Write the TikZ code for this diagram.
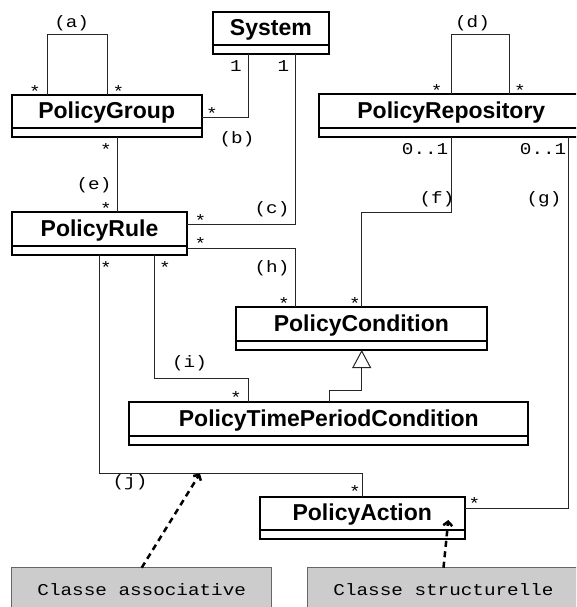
\documentclass[tikz,border=0pt]{standalone}
\usepackage{fontspec}
\setmainfont{Liberation Sans}
\newfontfamily\monof[FakeStretch=1.17]{Liberation Mono}
\usetikzlibrary{arrows.meta}

\tikzset{
  umlclass/.style={draw=black, line width=2pt, rectangle, inner sep=0pt, outer sep=0pt,
    anchor=north west, minimum height=42.7pt, text height=17pt, text depth=11.7pt,
    font=\fontsize{23}{23}\selectfont\bfseries,
    path picture={\draw[line width=2pt]
      ([yshift=9.5pt]path picture bounding box.south west) --
      ([yshift=9.5pt]path picture bounding box.south east);}},
  notebox/.style={draw=black!60, fill=black!20, line width=1pt, rectangle, inner sep=0pt,
    outer sep=0pt, anchor=north west, minimum height=46.2pt, text height=10pt, text depth=1.2pt,
    font=\monof\fontsize{16.5}{16.5}\selectfont},
  lbl/.style={font=\monof\fontsize{16.5}{16.5}\selectfont, inner sep=0pt, anchor=base, yshift=-5.2pt},
  lblr/.style={lbl, anchor=base east},
  mult/.style={font=\monof\fontsize{16.5}{16.5}\selectfont, inner sep=0pt, anchor=base, yshift=-9pt},
  assoc/.style={draw=black!85, line width=1pt},
  inherit/.style={assoc, -{Triangle[open, length=18pt, width=19pt]}},
  notelink/.style={draw=black, line width=2.5pt, dash pattern=on 6pt off 4.5pt,
    -{Straight Barb[length=4pt, width=9pt]}},
}

\begin{document}
\begin{tikzpicture}[x=1pt, y=-1pt]
  \clip (0,0) rectangle (576,607);
  \fill[white] (0,0) rectangle (576,607);

  % classes
  \node[umlclass, minimum width=116.3pt] (sys)  at (212.7,11.7)  {System};
  \node[umlclass, minimum width=190pt]   (pg)   at (11.7,94.7)   {PolicyGroup};
  \node[umlclass, minimum width=264pt]   (repo) at (319.3,94.3)  {PolicyRepository};
  \node[umlclass, minimum width=175.6pt] (pr)   at (11.7,212.3)  {PolicyRule};
  \node[umlclass, minimum width=250.7pt] (pc)   at (236,307.3)   {PolicyCondition};
  \node[umlclass, minimum width=399pt]   (ptpc) at (129.3,402.3) {PolicyTimePeriodCondition};
  \node[umlclass, minimum width=204.5pt] (pa)   at (260,496.7)   {PolicyAction};

  % notes
  \node[notebox, minimum width=260pt]   (ca) at (11.7,567.7)  {Classe associative};
  \node[notebox, minimum width=271.6pt] (cs) at (307.7,567.7) {Classe structurelle};

  % associations
  \draw[assoc] (pg.north -| 47,0) |- (107,35) -- (pg.north -| 107,0);          % (a)
  \draw[assoc] (repo.north -| 451.7,0) |- (509.3,35) -- (repo.north -| 509.3,0); % (d)
  \draw[assoc] (pg.east |- 0,117.7) -| (sys.south -| 248.3,0);                  % (b)
  \draw[assoc] (pr.east |- 0,224.3) -| (sys.south -| 295.7,0);                  % (c)
  \draw[assoc] (pg.south -| 117.7,0) -- (pr.north -| 117.7,0);                  % (e)
  \draw[assoc] (repo.south -| 451.7,0) |- (361.7,212) -- (pc.north -| 361.7,0); % (f)
  \draw[assoc] (repo.south -| 568.5,0) |- (pa.east |- 0,508.3);                 % (g)
  \draw[assoc] (pr.east |- 0,248.3) -| (pc.north -| 295.7,0);                   % (h)
  \draw[assoc] (pr.south -| 154,0) |- (248.3,378.7) -- (ptpc.north -| 248.3,0); % (i)
  \draw[assoc] (pr.south -| 99.3,0) |- (362.7,473) -- (pa.north -| 362.7,0);    % (j)

  % generalisation
  \draw[inherit] (ptpc.north -| 329.3,0) |- (361.7,390) -- (pc.south -| 361.7,0);

  % note links
  \coordinate (jlink) at (200,473.5);
  \coordinate (palink) at (448.3,520);
  \draw[notelink] (ca.north) -- (jlink);
  \draw[notelink] (cs.north) -- (palink);

  % association names
  \node[lbl] (la) at (71.7,22) {(a)};
  \node[lbl] (lb) at (237,138) {(b)};
  \node[lbl] (lc) at (272,208.5) {(c)};
  \node[lbl] (ld) at (472.5,22) {(d)};
  \node[lbl] (le) at (94,184) {(e)};
  \node[lbl] (lf) at (437,198) {(f)};
  \node[lbl] (lg) at (544,198) {(g)};
  \node[lbl] (lh) at (272,267) {(h)};
  \node[lbl] (li) at (189.5,362.5) {(i)};
  \node[lbl] (lj) at (130,481) {(j)};

  % multiplicities
  \node[lbl] (m1) at (236,66) {1};
  \node[lbl] (m2) at (283.3,66) {1};
  \node[lblr] (m3) at (448.5,149) {0..1};
  \node[lblr] (m4) at (566.5,149) {0..1};
  \node[mult] (s1)  at (35,88.3) {*};
  \node[mult] (s2)  at (118.3,88.3) {*};
  \node[mult] (s3)  at (212,110) {*};
  \node[mult] (s4)  at (106,146) {*};
  \node[mult] (s5)  at (106,205) {*};
  \node[mult] (s6)  at (200.3,217.3) {*};
  \node[mult] (s7)  at (200.3,240) {*};
  \node[mult] (s8)  at (106,264) {*};
  \node[mult] (s9)  at (165,264) {*};
  \node[mult] (s10) at (284,300) {*};
  \node[mult] (s11) at (355,300.7) {*};
  \node[mult] (s12) at (236,394) {*};
  \node[mult] (s13) at (355,488.3) {*};
  \node[mult] (s14) at (474.3,500) {*};
  \node[mult] (s15) at (436.7,87.7) {*};
  \node[mult] (s16) at (520,87.7) {*};
\end{tikzpicture}
\end{document}
